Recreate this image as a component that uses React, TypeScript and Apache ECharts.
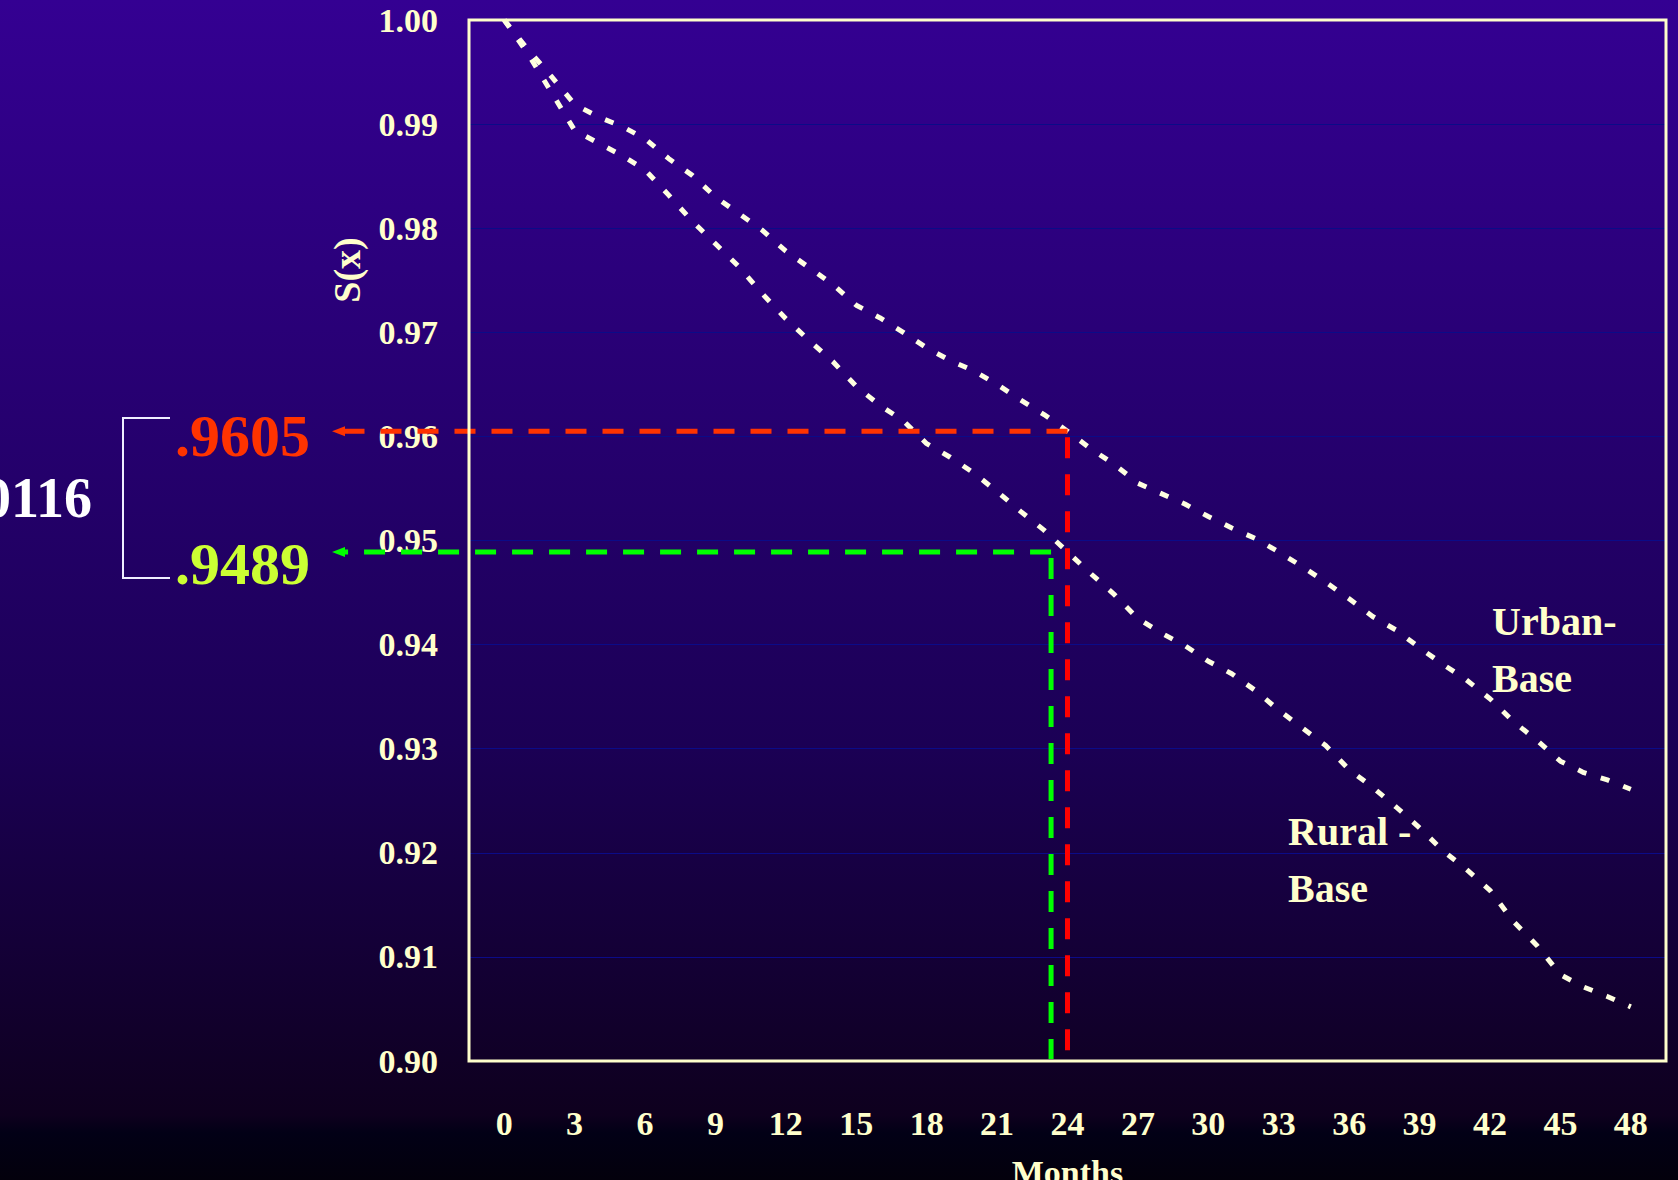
import React, { useEffect, useRef } from "react";
import * as echarts from "echarts";

// Survival estimates S(x) by month since baseline
const MONTHS = [
  0, 1, 2, 3, 4, 5, 6, 7, 8, 9, 10, 11, 12, 13, 14, 15, 16, 17, 18, 19, 20, 21, 22, 23, 24,
  25, 26, 27, 28, 29, 30, 31, 32, 33, 34, 35, 36, 37, 38, 39, 40, 41, 42, 43, 44, 45, 46, 47, 48,
];

const URBAN_BASE = [
  1.0, 0.9972, 0.9946, 0.9919, 0.9907, 0.9898, 0.9886, 0.9867, 0.9851, 0.983, 0.9814, 0.9798,
  0.9778, 0.9762, 0.9746, 0.9726, 0.9714, 0.97, 0.9685, 0.9673, 0.9663, 0.965, 0.9635, 0.9621,
  0.9605, 0.9588, 0.9573, 0.9555, 0.9545, 0.9535, 0.9523, 0.9512, 0.9502, 0.9489, 0.9475, 0.946,
  0.9444, 0.9427, 0.9414, 0.9397, 0.9381, 0.9366, 0.9348, 0.9326, 0.9308, 0.9288, 0.9277, 0.927,
  0.9261,
];

const RURAL_BASE = [
  1.0, 0.9968, 0.9931, 0.9894, 0.9882, 0.987, 0.9856, 0.9832, 0.9807, 0.9785, 0.9763, 0.9737,
  0.9713, 0.9692, 0.9672, 0.9648, 0.963, 0.9615, 0.9593, 0.958, 0.9565, 0.9547, 0.9528, 0.951,
  0.9489, 0.9468, 0.9448, 0.9425, 0.9411, 0.9399, 0.9384, 0.9372, 0.9356, 0.9337, 0.932, 0.9303,
  0.928, 0.9263, 0.9244, 0.9224, 0.9202, 0.9184, 0.9164, 0.9134, 0.9111, 0.9083, 0.9071, 0.9062,
  0.9052,
];

const MONTH_TICKS = [
  "0", "3", "6", "9", "12", "15", "18", "21", "24", "27", "30", "33", "36", "39", "42", "45", "48",
];

// Reference readings at two years
const URBAN_MARK = { month: 24, value: 0.9605, label: ".9605" };
const RURAL_MARK = { month: 23.3, value: 0.9489, label: ".9489" };
const DIFF_LABEL = ".0116";

const CREAM = "#FFFFCC";
const SERIF = '"Liberation Serif", "Times New Roman", serif';

export default function App() {
  const ref = useRef<HTMLDivElement>(null);

  useEffect(() => {
    if (!ref.current) return;
    const chart = echarts.init(ref.current, null, { renderer: "svg" });

    const axisText = {
      color: CREAM,
      fontSize: 34,
      fontWeight: "bold" as const,
      fontFamily: SERIF,
    };

    chart.setOption({
      animation: false,
      backgroundColor: "transparent",
      grid: {
        left: 469,
        top: 20,
        right: 12,
        bottom: 119,
        containLabel: false,
        outerBoundsMode: "none",
      },
      xAxis: [
        {
          type: "value",
          min: -1.5,
          max: 49.5,
          axisLine: { show: false },
          axisTick: { show: false },
          axisLabel: { show: false },
          splitLine: { show: false },
        },
        {
          type: "category",
          data: MONTH_TICKS,
          boundaryGap: true,
          position: "bottom",
          axisLine: { show: false },
          axisTick: { show: false },
          splitLine: { show: false },
          axisLabel: { ...axisText, margin: 45, interval: 0 },
          name: "Months",
          nameLocation: "middle",
          nameGap: 94,
          nameTextStyle: { ...axisText },
        },
      ],
      yAxis: {
        type: "value",
        min: 0.9,
        max: 1.0,
        interval: 0.01,
        axisLine: { show: false },
        axisTick: { show: false },
        axisLabel: {
          ...axisText,
          margin: 31,
          formatter: (v: number) => v.toFixed(2),
        },
        splitLine: { show: true, lineStyle: { color: "#0B0B88", width: 1 } },
      },
      series: [
        {
          name: "Urban-Base",
          type: "line",
          xAxisIndex: 0,
          yAxisIndex: 0,
          symbol: "none",
          data: MONTHS.map((m, i) => [m, URBAN_BASE[i]]),
          lineStyle: { color: "#FFFFE0", width: 5, type: [9, 15], cap: "butt" },
          z: 5,
        },
        {
          name: "Rural - Base",
          type: "line",
          xAxisIndex: 0,
          yAxisIndex: 0,
          symbol: "none",
          data: MONTHS.map((m, i) => [m, RURAL_BASE[i]]),
          lineStyle: { color: "#FFFFE0", width: 5, type: [9, 15], cap: "butt" },
          z: 5,
        },
      ],
    });

    const px = (m: number, v: number) =>
      chart.convertToPixel({ seriesIndex: 0 }, [m, v]) as number[];

    const [xL, yT] = px(-1.5, 1.0);
    const [xR, yB] = px(49.5, 0.9);
    const [rx, ry] = px(URBAN_MARK.month, URBAN_MARK.value);
    const [gx, gy] = px(RURAL_MARK.month, RURAL_MARK.value);
    const arrowTip = 332;

    const guide = (x: number, y: number, hColor: string, vColor: string) => [
      {
        type: "line",
        z: 40,
        shape: { x1: x, y1: y, x2: arrowTip + 12, y2: y },
        style: { stroke: hColor, lineWidth: 5, lineDash: [21, 16] },
      },
      {
        type: "polygon",
        z: 40,
        shape: { points: [[arrowTip, y], [arrowTip + 13, y - 5], [arrowTip + 13, y + 5]] },
        style: { fill: hColor },
      },
      {
        type: "line",
        z: 40,
        shape: { x1: x, y1: y + 6, x2: x, y2: yB - 2 },
        style: { stroke: vColor, lineWidth: 5, lineDash: [21, 16] },
      },
    ];

    const label = (x: number, y: number, text: string, fontSize = 40) => ({
      type: "text",
      z: 60,
      x,
      y,
      style: {
        text,
        fill: CREAM,
        font: `bold ${fontSize}px ${SERIF}`,
        align: "left",
        verticalAlign: "middle",
      },
    });

    chart.setOption({
      graphic: [
        {
          type: "rect",
          z: 50,
          shape: { x: xL, y: yT, width: xR - xL, height: yB - yT },
          style: { fill: "none", stroke: CREAM, lineWidth: 3 },
        },
        ...guide(rx, ry, "#FF3300", "#FF0000"),
        ...guide(gx, gy, "#00FF00", "#00FF00"),
        {
          type: "text",
          z: 60,
          x: 310,
          y: 436,
          style: {
            text: URBAN_MARK.label,
            fill: "#FF3300",
            font: `bold 60px ${SERIF}`,
            align: "right",
            verticalAlign: "middle",
          },
        },
        {
          type: "text",
          z: 60,
          x: 310,
          y: 564,
          style: {
            text: RURAL_MARK.label,
            fill: "#CCFF33",
            font: `bold 60px ${SERIF}`,
            align: "right",
            verticalAlign: "middle",
          },
        },
        {
          type: "text",
          z: 60,
          x: 92,
          y: 498,
          style: {
            text: DIFF_LABEL,
            fill: "#FFFFFF",
            font: `bold 56px ${SERIF}`,
            align: "right",
            verticalAlign: "middle",
          },
        },
        {
          type: "polyline",
          z: 60,
          shape: { points: [[170, 418], [123, 418], [123, 578], [170, 578]] },
          style: { stroke: "#EEEEFF", lineWidth: 2, fill: "none" },
        },
        {
          type: "text",
          z: 60,
          x: 347,
          y: 270,
          rotation: Math.PI / 2,
          style: {
            text: "S(x)",
            fill: CREAM,
            font: `bold 38px ${SERIF}`,
            align: "center",
            verticalAlign: "middle",
          },
        },
        label(1492, 621, "Urban-"),
        label(1492, 678, "Base"),
        label(1288, 831, "Rural -"),
        label(1288, 888, "Base"),
      ],
    });

    return () => chart.dispose();
  }, []);

  return (
    <div
      ref={ref}
      style={{
        position: "fixed",
        left: 0,
        top: 0,
        width: 1678,
        height: 1180,
        background:
          "linear-gradient(to bottom, rgb(52,0,146) 0%, rgb(27,0,85) 63%, rgb(14,0,30) 94.5%, rgb(2,0,22) 96%, rgb(3,0,12) 100%)",
      }}
    />
  );
}
